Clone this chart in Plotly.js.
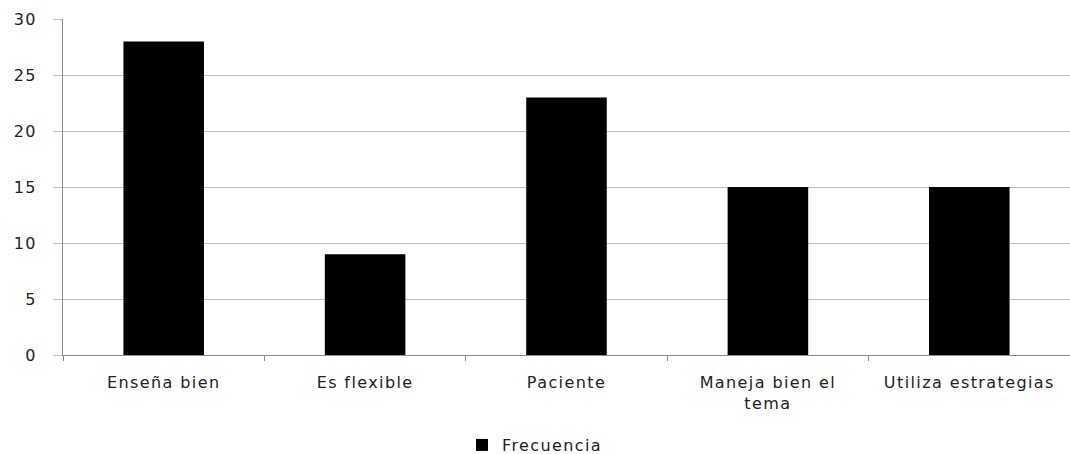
<!DOCTYPE html>
<html>
<head>
<meta charset="utf-8">
<script src="https://cdn.plot.ly/plotly-3.0.1.min.js"></script>
<style>
html,body{margin:0;padding:0;background:#fff;}
#chart{width:1070px;height:454px;}
text{letter-spacing:1.4px;}
</style>
</head>
<body>
<div id="chart"></div>
<script>
const categories = ["Enseña bien", "Es flexible", "Paciente", "Maneja bien el<br>tema", "Utiliza estrategias"];
const frecuencia = [28, 9, 23, 15, 15];
const seriesName = "Frecuencia";
const yTicks = [0, 5, 10, 15, 20, 25, 30];

const trace = {
  type: "bar",
  x: categories,
  y: frecuencia,
  name: seriesName,
  marker: {color: "#000000"},
  width: 0.4,
  showlegend: true
};

const layout = {
  width: 1070,
  height: 454,
  margin: {l: 63, r: 0, t: 19, b: 99, autoexpand: false},
  paper_bgcolor: "#ffffff",
  plot_bgcolor: "#ffffff",
  font: {family: "DejaVu Sans", size: 16, color: "#222222"},
  showlegend: true,
  legend: {
    orientation: "h",
    xref: "container",
    x: 0.5, xanchor: "center",
    y: -0.268, yanchor: "middle",
    font: {family: "DejaVu Sans", size: 16, color: "#222222"},
    itemwidth: 30
  },
  xaxis: {
    type: "category",
    automargin: false,
    showline: true,
    linecolor: "#8c8c8c",
    linewidth: 1,
    ticks: "outside",
    tickson: "boundaries",
    ticklen: 5,
    tickcolor: "#8c8c8c",
    showgrid: false,
    ticklabelstandoff: 13,
    tickfont: {family: "DejaVu Sans", size: 16, color: "#222222"}
  },
  yaxis: {
    automargin: false,
    range: [0, 30],
    tickvals: yTicks,
    showline: true,
    linecolor: "#8c8c8c",
    linewidth: 1,
    ticks: "outside",
    ticklen: 9,
    tickcolor: "#bfbfbf",
    showgrid: true,
    gridcolor: "#bfbfbf",
    gridwidth: 1,
    zeroline: false,
    ticklabelstandoff: 13,
    tickfont: {family: "DejaVu Sans", size: 16, color: "#222222"}
  },
  bargap: 0.6
};

Plotly.newPlot("chart", [trace], layout, {displayModeBar: false, staticPlot: true});
</script>
</body>
</html>
